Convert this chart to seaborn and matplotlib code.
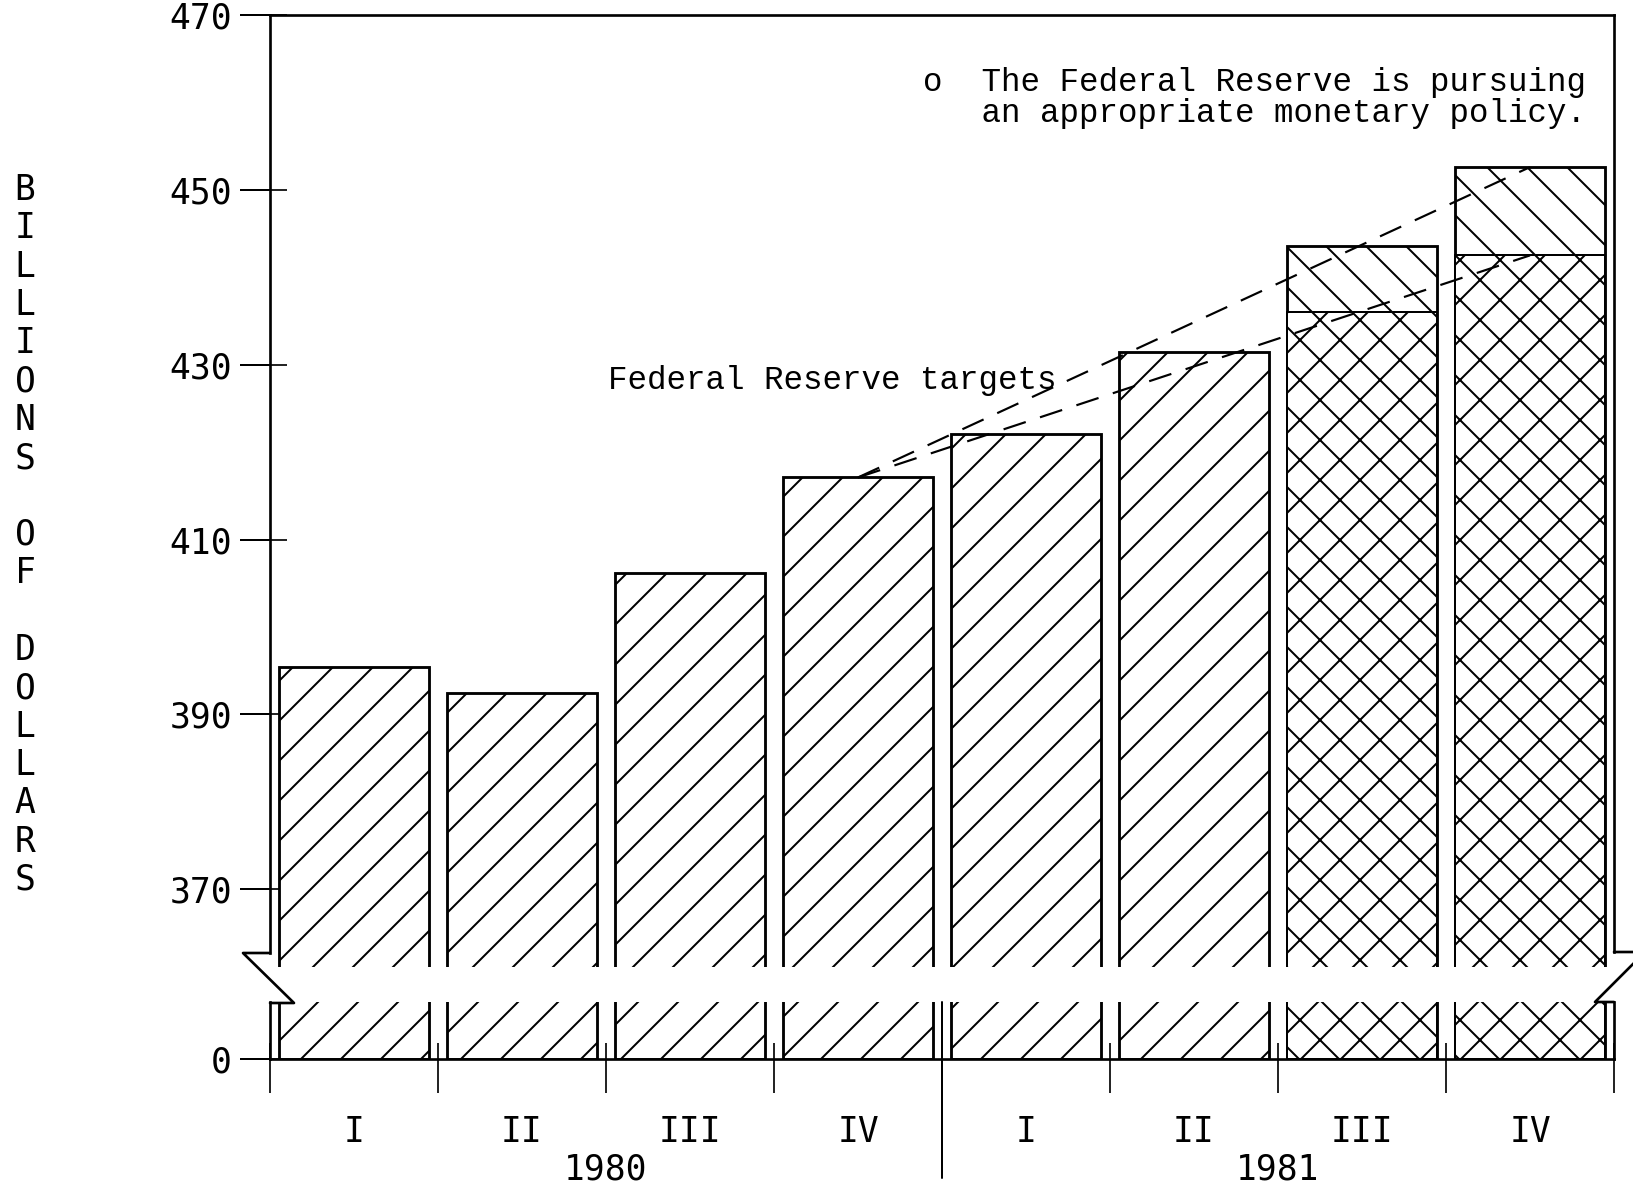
import numpy as np
import pandas as pd
import seaborn as sns
import matplotlib
import matplotlib.pyplot as plt
from matplotlib.lines import Line2D
from matplotlib.transforms import blended_transform_factory

matplotlib.use('Agg')

# data
quarters = ['1980 I', '1980 II', '1980 III', '1980 IV',
            '1981 I', '1981 II', '1981 III', '1981 IV']
quarter_labels = ['I', 'II', 'III', 'IV', 'I', 'II', 'III', 'IV']
years = ['1980', '1981']
bar_tops = [395.4, 392.4, 406.2, 417.1, 422.1, 431.5, 443.6, 452.6]
cross_quarters = ['1981 III', '1981 IV']
cross_tops = [436.0, 442.5]
target_quarters = ['1980 IV', '1981 IV']
target_low = [417.1, 442.5]
target_high = [417.1, 452.6]
yticks_upper = [370, 390, 410, 430, 450, 470]
yticks_lower = [0]
ylabel = 'BILLIONS OF DOLLARS'
note = 'o  The Federal Reserve is pursuing\n   an appropriate monetary policy.'
target_note = 'Federal Reserve targets'

sns.set_theme(style='white')
plt.rcParams['font.family'] = ['DejaVu Sans Mono']
plt.rcParams['hatch.linewidth'] = 0.6
plt.rcParams['lines.scale_dashes'] = False

DPI = 240
W, H = 1633, 1188
fig = plt.figure(figsize=(W / DPI, H / DPI), dpi=DPI)
fig.patch.set_facecolor('white')

# broken axis: upper part 361..470, lower part 0..6.5 (same scale)
ax_top = fig.add_axes([270 / W, 1 - 967 / H, 1344 / W, 952 / H])
ax_bot = fig.add_axes([270 / W, 1 - 1059 / H, 1344 / W, 57 / H])

df = pd.DataFrame({'quarter': quarters, 'value': bar_tops})
cross_df = pd.DataFrame({'quarter': cross_quarters, 'value': cross_tops})

for ax in (ax_top, ax_bot):
    ax.set_facecolor('white')
    sns.barplot(data=df, x='quarter', y='value', order=quarters, width=0.89,
                color='white', saturation=1, edgecolor='black', linewidth=0.85,
                errorbar=None, ax=ax)
    for q, patch in zip(quarters, ax.patches):
        patch.set_hatch('\\\\' if q in cross_quarters else '//')
    n = len(ax.patches)
    sns.barplot(data=cross_df, x='quarter', y='value', order=quarters, width=0.89,
                color='white', saturation=1, edgecolor='black', linewidth=0.6,
                errorbar=None, ax=ax)
    for patch in ax.patches[n:]:
        patch.set_hatch('xx')
    ax.set_xlim(-0.5, len(quarters) - 0.5)
    ax.set_xlabel('')
    ax.set_ylabel('')
    for s in ax.spines.values():
        s.set_linewidth(0.8)
        s.set_color('black')

# target cone
pos = {q: i for i, q in enumerate(quarters)}
tx = [pos[q] for q in target_quarters]
for vals in (target_low, target_high):
    ax_top.plot(tx, vals, color='black', lw=0.65, dashes=(7, 4.5))

ax_top.set_ylim(361.1, 470)
ax_bot.set_ylim(0, 6.52)
ax_top.spines['bottom'].set_visible(False)
ax_bot.spines['top'].set_visible(False)
ax_top.spines['left'].set_bounds(362.7, 470)
ax_top.spines['right'].set_bounds(362.8, 470)

ax_top.tick_params(axis='x', which='both', bottom=False, labelbottom=False)
ax_top.set_yticks(yticks_upper)
ax_top.set_yticks(yticks_upper, minor=True)
ax_bot.set_yticks(yticks_lower)
ax_bot.set_yticks(yticks_lower, minor=True)
bounds = np.arange(len(quarters) + 1) - 0.5
ax_bot.set_xticks(bounds, labels=[''] * len(bounds))
ax_bot.set_xticks(bounds, minor=True)
for ax in (ax_top, ax_bot):
    ax.yaxis.remove_overlapping_locs = False
    ax.xaxis.remove_overlapping_locs = False
    ax.tick_params(axis='y', which='major', direction='out', length=9, width=0.6,
                   pad=2.4, labelsize=10.4, colors='black', left=True)
    ax.tick_params(axis='y', which='minor', direction='in', length=5.1, width=0.6,
                   left=True)
ax_bot.tick_params(axis='x', which='major', direction='out', length=10.2, width=0.6,
                   bottom=True)
ax_bot.tick_params(axis='x', which='minor', direction='in', length=4.8, width=0.6,
                   bottom=True)

# quarter and year labels
trans = blended_transform_factory(ax_bot.transData, fig.transFigure)
for i, lab in enumerate(quarter_labels):
    ax_bot.text(i, 1 - 1132 / H, lab, transform=trans, ha='center', va='center',
                fontsize=10.4, color='black')
for yr in years:
    xs = [pos[q] for q in quarters if q.startswith(yr)]
    ax_bot.text(np.mean(xs), 1 - 1169 / H, yr, transform=trans, ha='center',
                va='center', fontsize=10.4, color='black')
split = pos[quarters[[q.startswith(years[1]) for q in quarters].index(True)]] - 0.5
ax_bot.plot([split, split], [1 - 1002 / H, 1 - 1178 / H], transform=trans,
            color='black', lw=0.6, clip_on=False)

# axis break marks
for pts in ([(270, 953), (243, 953), (294, 1003), (270, 1003)],
            [(1614, 952), (1645, 952), (1595, 1002), (1614, 1002)]):
    fig.add_artist(Line2D([p[0] / W for p in pts], [1 - p[1] / H for p in pts],
                          transform=fig.transFigure, color='black', lw=0.8))

# vertical stacked axis title
stacked = '\n'.join(ylabel)
fig.text(25 / W, 1 - 535 / H, stacked, ha='center', va='center',
         multialignment='center', fontsize=10.4, linespacing=1.16, color='black')

ax_top.text(0.486, 1 - (122 - 15) / 952, note, transform=ax_top.transAxes,
            va='baseline', ha='left', family=['Liberation Mono'], fontsize=9.75,
            linespacing=1.0, color='black')
ax_top.text(1.51, 427.2, target_note, va='baseline', ha='left',
            family=['Liberation Mono'], fontsize=9.75, color='black')

fig.savefig('out.png', dpi=DPI, facecolor='white')
